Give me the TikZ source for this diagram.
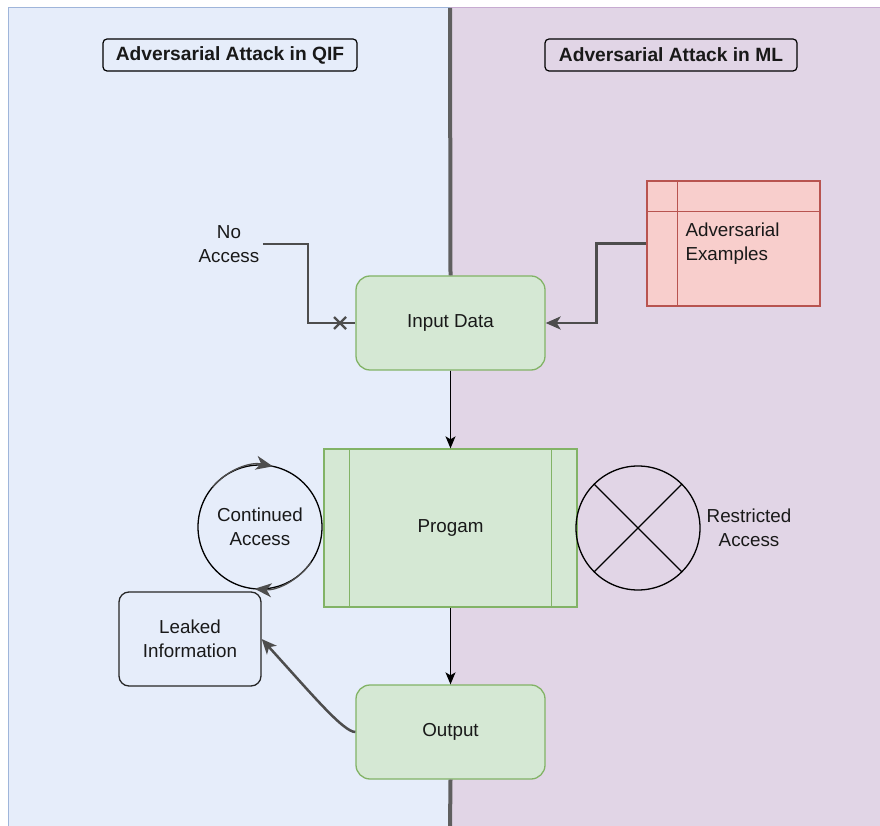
\documentclass[tikz,border=0pt]{standalone}
\usepackage{fontspec}
\setmainfont{Liberation Sans}
\usetikzlibrary{arrows.meta}
\definecolor{qifbg}{HTML}{E6EDFA}
\definecolor{qifline}{HTML}{9FB5DA}
\definecolor{mlbg}{HTML}{E1D5E6}
\definecolor{mlline}{HTML}{C7ABD1}
\definecolor{greenfill}{HTML}{D5E8D4}
\definecolor{greenline}{HTML}{82B366}
\definecolor{redfill}{HTML}{F8CECC}
\definecolor{redline}{HTML}{B85450}
\definecolor{linkgray}{HTML}{4D4D4D}
\begin{document}
\begin{tikzpicture}[x=1pt,y=1pt,
    every node/.style={font=\fontsize{18.8}{24}\selectfont, align=center, text=black!90},
    titlebox/.style={draw=black, rounded corners=4pt, line width=1.2pt, inner sep=0pt,
      font=\fontsize{19.2}{24}\selectfont\bfseries, minimum width=254pt, minimum height=32pt},
    greenbox/.style={draw=greenline, fill=greenfill, line width=1.3pt, rounded corners=14pt,
      minimum width=189pt, minimum height=94pt},
    flow/.style={line width=1.3pt, -{Stealth[length=12pt,width=10pt,inset=3pt]}},
    link/.style={draw=linkgray, line width=2.5pt},
    ring/.style={circle, draw=black, line width=1.3pt, minimum size=124pt, inner sep=0pt, outer sep=0pt}]
  \useasboundingbox (0,0) rectangle (880,825);
  % the two sides
  \draw[qifline, fill=qifbg, line width=1pt] (8,-2) rectangle (450,817);
  \draw[mlline, fill=mlbg, line width=1pt] (450,-2) rectangle (882,817);
  \node[titlebox] (qif) at (230,770) {Adversarial Attack in QIF};
  \node[titlebox, minimum width=252pt] (ml) at (671,770) {Adversarial Attack in ML};
  % main flow
  \node[greenbox] (inp) at (450.5,502) {Input Data};
  \node[draw=greenline, fill=greenfill, line width=1.3pt, minimum width=253pt, minimum height=158pt] (prog) at (450.5,297) {Progam};
  \draw[greenline, line width=1.3pt] ([xshift=26pt]prog.north west) -- ([xshift=26pt]prog.south west);
  \draw[greenline, line width=1.3pt] ([xshift=-26pt]prog.north east) -- ([xshift=-26pt]prog.south east);
  \node[greenbox] (outp) at (450.5,93) {Output};
  \draw[linkgray!90, line width=4pt] (450,817) -- (inp.north);
  \draw[linkgray!90, line width=4pt] (outp.south) -- (450,-2);
  \draw[flow] (inp) -- (prog);
  \draw[flow] (prog) -- (outp);
  % ML side
  \node[draw=redline, fill=redfill, line width=1.3pt, minimum width=173pt, minimum height=125pt] (adv) at (733.5,581.5) {};
  \draw[redline, line width=1.3pt] ([xshift=31pt]adv.north west) -- ([xshift=31pt]adv.south west);
  \draw[redline, line width=1.3pt] ([yshift=-31pt]adv.north west) -- ([yshift=-31pt]adv.north east);
  \node[anchor=west, align=left] (advlbl) at (682,581) {Adversarial\\Examples};
  \draw[link, -{Stealth[length=15pt,width=13pt,inset=4pt]}] (adv.west) -- ++(-50,0) |- (inp.east);
  \node[ring] (rest) at (638,297) {};
  \draw[line width=1.3pt] (rest.45) -- (rest.225);
  \draw[line width=1.3pt] (rest.135) -- (rest.-45);
  \node (restlbl) at (749,297) {Restricted\\Access};
  % QIF side
  \node (noacc) at (229,581) {No\\Access};
  \draw[link] (noacc.east) -- ++(45,0) |- (inp.west);
  \coordinate (cut) at (340,502);
  \draw[linkgray, line width=2.2pt] ([shift={(-6,-6)}]cut) -- ([shift={(6,6)}]cut);
  \draw[linkgray, line width=2.2pt] ([shift={(-6,6)}]cut) -- ([shift={(6,-6)}]cut);
  \node[ring] (cont) at (260,298) {Continued\\Access};
  \draw[line width=1.3pt, -{Stealth[length=17pt,width=14pt,inset=5pt]}, linkgray] (cont.140) arc (140:78:62);
  \draw[line width=1.3pt, -{Stealth[length=17pt,width=14pt,inset=5pt]}, linkgray] (cont.-35) arc (-35:-95:62);
  \node[draw=black!85, line width=1.3pt, rounded corners=10pt, minimum width=142pt, minimum height=94pt] (leak) at (190,186) {Leaked\\Information};
  \draw[link, -{Stealth[length=15pt,width=13pt,inset=4pt]}] (outp.west) .. controls +(-12,0) and +(50,-55) .. (leak.east);
\end{tikzpicture}
\end{document}
